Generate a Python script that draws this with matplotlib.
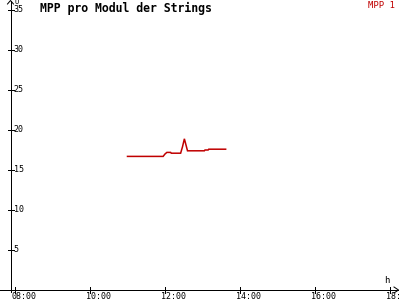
import numpy as np
import matplotlib
matplotlib.use('Agg')
from matplotlib import pyplot as plt

# MPP 1 voltage per module
times = ['11:00', '11:57', '12:00', '12:03', '12:09', '12:10', '12:25',
         '12:28', '12:31', '12:36', '13:03', '13:04', '13:09', '13:10', '13:37']
volts = [16.7, 16.7, 17.0, 17.2, 17.2, 17.1, 17.1,
         17.9, 18.9, 17.4, 17.4, 17.5, 17.5, 17.6, 17.6]

x_ticks = [8, 10, 12, 14, 16, 18]
x_labels = ['08:00', '10:00', '12:00', '14:00', '16:00', '18:00']
y_ticks = [5, 10, 15, 20, 25, 30, 35]

RED = '#c00000'
MONO = 'DejaVu Sans Mono'
LW = 0.72  # one pixel at 100 dpi


def to_hours(t):
    h, m = t.split(':')
    return int(h) + int(m) / 60.0


# pixel -> data mapping of the reference: x = 8 + (px-15)/37.5, y = (290-py)/8
def px_x(px):
    return 8 + (px - 15) / 37.5


def px_y(py):
    return (290 - py) / 8.0


fig = plt.figure(figsize=(4, 3), dpi=100)
ax = fig.add_axes([0, 0, 1, 1])
ax.set_xlim(px_x(0), px_x(400))
ax.set_ylim(px_y(300), px_y(0))
ax.axis('off')

x0 = px_x(10.5)
dx = 3 / 37.5
dy = 3 / 8.0

# axes with arrows
ax.plot([x0, x0], [px_y(292), px_y(1)], color='black', lw=LW, antialiased=False)
ax.plot([px_x(0), px_x(398)], [0, 0], color='black', lw=LW, antialiased=False)
ax.plot([x0 - dx, x0, x0 + dx], [px_y(4), px_y(0.5), px_y(4)], color='black', lw=LW)
ax.plot([px_x(394), px_x(398.5), px_x(394)], [px_y(287), 0, px_y(293)], color='black', lw=LW)

# ticks and labels
for v in y_ticks:
    ax.plot([x0 - dx, x0 + dx], [v, v], color='black', lw=LW, antialiased=False)
    ax.text(px_x(13.5), v, str(v), fontsize=6, family=MONO, va='center', ha='left')
for t, lab in zip(x_ticks, x_labels):
    ax.plot([t, t], [-dy, dy], color='black', lw=LW, antialiased=False)
    ax.text(t - 4 / 37.5, px_y(292), lab, fontsize=6, family=MONO, va='top', ha='left')

ax.text(px_x(14.5), px_y(-1), 'U', fontsize=5, family=MONO, va='top', ha='left')
ax.text(px_x(384), px_y(276), 'h', fontsize=6.5, family=MONO, va='top', ha='left')

# data
hours = [to_hours(t) for t in times]
ax.plot(hours, volts, color=RED, lw=1.1, solid_joinstyle='miter')

fig.text(40 / 400, 1 - 2 / 300, 'MPP pro Modul der Strings', fontsize=8.3, family=MONO,
         fontweight='bold', va='top', ha='left')
fig.text(395 / 400, 1 - 1 / 300, 'MPP 1', fontsize=6.5, family=MONO, color=RED,
         va='top', ha='right')

fig.savefig('out.png', dpi=100)
